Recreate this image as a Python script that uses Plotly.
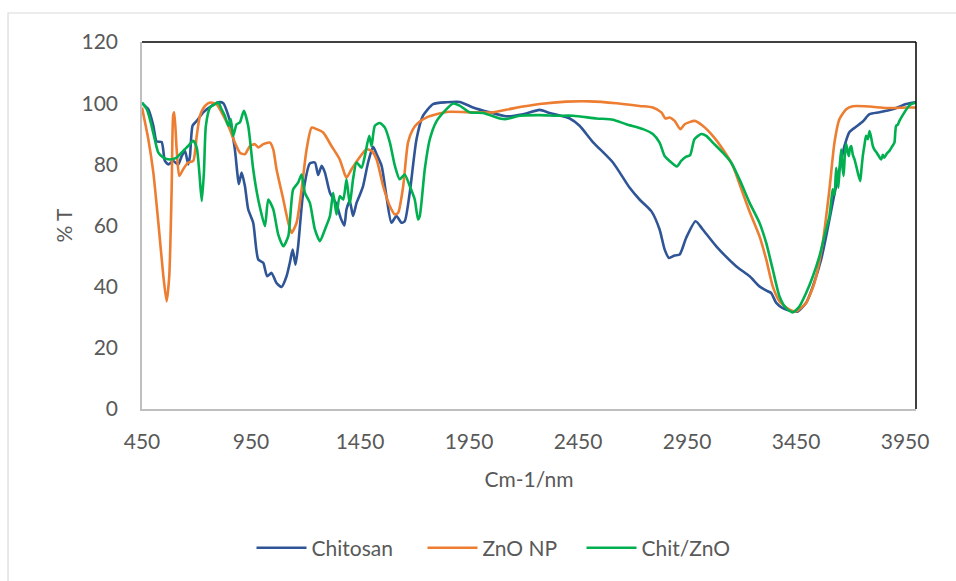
import plotly.graph_objects as go

# ---------------- data ----------------
chitosan_wn = [450, 479, 502, 517, 540, 555, 571, 593, 616, 632, 647, 662, 670, 682, 701, 731, 769, 800, 823,
               846, 861, 876, 887, 894, 907, 922, 937, 960, 983, 1006, 1024, 1044, 1067, 1090, 1113, 1128, 1141,
               1154, 1166, 1189, 1220, 1243, 1258, 1274, 1289, 1312, 1342, 1361, 1378, 1388, 1403, 1418, 1434,
               1449, 1464, 1487, 1510, 1526, 1549, 1571, 1594, 1617, 1640, 1655, 1678, 1709, 1739, 1785, 1846,
               1907, 1968, 2045, 2121, 2198, 2274, 2320, 2412, 2457, 2518, 2610, 2686, 2732, 2786, 2824, 2847,
               2867, 2893, 2916, 2946, 2989, 3022, 3084, 3175, 3237, 3282, 3320, 3336, 3359, 3389, 3435, 3458,
               3496, 3527, 3565, 3588, 3618, 3649, 3672, 3695, 3725, 3756, 3787, 3832, 3893, 3955, 3998]
chitosan_t = [100, 98, 92.6, 87.5, 87.3, 81.1, 80, 81.1, 80, 82.7, 84.4, 80, 82.7, 92.6, 94.2, 97, 99.1, 100.3, 100,
              95.9, 91.5, 84.9, 77.3, 73.5, 77.3, 72.9, 65.3, 60.9, 48.9, 47.8, 43.4, 44.5, 41.2, 39.9, 43.4, 47.8, 52.1,
              47.2, 53.2, 70.5, 80.3, 80.6, 76.5, 79.5, 77.3, 70.7, 67, 62.5, 60, 65.3, 68, 63.1, 67.4,
              70, 72.9, 80.6, 85.7, 83.3, 79.5, 69.6, 60.9, 63.1, 60.9, 61.4, 70.7, 88.2, 95.9, 99.7, 100.3,
              100.4, 98.6, 97, 95.7, 96.4, 97.8, 96.8, 95, 92.6, 87.3, 80.6, 72.4, 68.5, 64.7, 58.7, 52.2,
              49.4, 50.2, 50.5, 56, 61.4, 58.7, 53.2, 46.7, 43.4, 40.1, 38.5, 37.9, 34.7, 33, 31.9, 31.9,
              34.7, 40.1, 48.9, 56.5, 67.4, 78.4, 86, 90.6, 92.3, 94, 96.4, 97, 98, 99.7, 100.3]

zno_wn = [450, 479, 502, 525, 548, 563, 575, 586, 593, 598, 609, 621, 639, 662, 685, 701, 716, 739, 762, 792,
          815, 846, 876, 899, 922, 945, 968, 983, 1006, 1037, 1052, 1067, 1098, 1121, 1136, 1159, 1182, 1205,
          1228, 1251, 1281, 1319, 1357, 1380, 1388, 1411, 1441, 1480, 1503, 1526, 1556, 1587, 1610, 1625,
          1648, 1670, 1693, 1716, 1760, 1800, 1862, 1968, 2060, 2152, 2274, 2396, 2503, 2626, 2732, 2793,
          2832, 2851, 2870, 2893, 2919, 2939, 2985, 3022, 3068, 3114, 3160, 3191, 3237, 3282, 3313, 3343,
          3374, 3420, 3450, 3496, 3534, 3572, 3603, 3626, 3649, 3680, 3710, 3787, 3863, 3955, 4000]
zno_t = [98.6, 88.2, 77.3, 60.9, 43.4, 35.2, 43.4, 71.8, 95.9, 97, 84.9, 76.2, 78.4, 80.6, 81.1, 89.3, 95.9, 99.1, 100.2, 99.7,
         97, 92.6, 87.1, 83.8, 83.3, 86, 86.6, 85.5, 86.6, 87.1, 84.9, 78.4, 68.5, 60.9, 57.6, 60.9, 71.8, 84.9,
         92, 91.5, 90.4, 86, 81.6, 76.7, 75.6, 78.4, 81.6, 84.9, 84.4, 81.6, 72.9, 66.3, 63.6, 64.2,
         72.9, 87.1, 91.5, 93.5, 95.5, 96.4, 97.2, 97, 97, 98.3, 99.7, 100.5, 100.6, 100, 99.1, 98.6,
         97, 95, 95.3, 94.2, 91.5, 93.1, 94.2, 92.6, 89.3, 84.9, 79.5, 73.5, 64.5, 56.5, 48.9, 40.1,
         35.2, 32.5, 31.9, 34.7, 41.2, 54.3, 71.8, 87.1, 94.8, 98, 99, 98.9, 98.4, 98.6, 98.6]

chitzno_wn = [450, 472, 494, 510, 525, 548, 578, 609, 639, 662, 685, 701, 713, 724, 734, 743, 762, 785, 800, 815,
              830, 846, 857, 868, 884, 899, 917, 937, 960, 983, 1014, 1029, 1052, 1075, 1098, 1121, 1143, 1166,
              1182, 1197, 1220, 1243, 1266, 1289, 1312, 1327, 1342, 1357, 1373, 1388, 1403, 1418, 1434, 1457,
              1472, 1492, 1503, 1518, 1541, 1564, 1587, 1610, 1632, 1655, 1678, 1701, 1716, 1724, 1747, 1770,
              1800, 1839, 1877, 1907, 1953, 2014, 2091, 2121, 2182, 2274, 2350, 2427, 2534, 2610, 2671, 2748,
              2793, 2824, 2847, 2870, 2903, 2923, 2946, 2964, 2984, 3015, 3038, 3068, 3114, 3152, 3191, 3237,
              3282, 3313, 3343, 3374, 3404, 3435, 3465, 3496, 3527, 3557, 3580, 3603, 3612, 3618, 3626, 3634,
              3640, 3644, 3651, 3657, 3662, 3668, 3674, 3680, 3686, 3692, 3697, 3703, 3710, 3718, 3726, 3733,
              3744, 3750, 3756, 3764, 3771, 3779, 3787, 3795, 3802, 3811, 3820, 3830, 3840, 3848, 3855, 3866,
              3878, 3890, 3901, 3905, 3909, 3916, 3924, 3935, 3947, 3962, 3977, 4000]
chitzno_t = [100.2, 98, 92.6, 87.7, 83.8, 82.2, 81.6, 82.2, 84.4, 86, 87.7, 85.5, 77.3, 68, 77.3, 92.6, 98.6, 99.7, 100.2, 98,
             95.9, 92.6, 94.8, 89.3, 93.1, 93.7, 97.5, 92.6, 78.4, 68.5, 59.8, 68.5, 65.3, 57, 53.2, 56.5, 71.8, 74,
             76.7, 70.7, 67.4, 58.7, 54.9, 58.7, 63.1, 70.7, 63.6, 69.6, 68.5, 75.1, 66.9, 75.1, 80.6, 78.9,
             82.7, 89.3, 86, 92.6, 93.5, 92, 87.1, 79.5, 75.1, 76.7, 72.9, 68.5, 62, 63.1, 78.4, 88.2,
             94, 97.5, 99.9, 99.2, 97, 96.8, 95, 94.8, 95.9, 96.1, 95.9, 95.9, 95, 94.6, 93.1, 91.5,
             89.9, 87.1, 82.7, 81.1, 79.3, 81.1, 82.5, 83, 88.2, 89.9, 89.3, 87.1, 83.8, 80.6, 75, 67.4,
             60.9, 54.3, 45.6, 36.8, 33, 31.6, 33.5, 37.9, 43.4, 49.9, 56.5, 63.1, 68.5, 71.8, 70, 78.9,
             75.5, 72.4, 80.2, 84.9, 79.5, 76.2, 83.5, 86.6, 84.1, 82.7, 85.3, 86, 83.2, 81.6, 79.4, 77.3,
             74.5, 78.6, 82.7, 86.5, 89.3, 88.2, 90.9, 88.5, 86, 84.6, 83.8, 82.6, 81.6, 83.1, 82.2, 83.5,
             84.4, 85.8, 87.1, 90.5, 92.6, 92.9, 94.2, 95.6, 97, 98.6, 99.7, 100.2]

x_ticks = [450, 950, 1450, 1950, 2450, 2950, 3450, 3950]
y_ticks = [0, 20, 40, 60, 80, 100, 120]
series_names = ["Chitosan", "ZnO NP", "Chit/ZnO"]
series_x = [chitosan_wn, zno_wn, chitzno_wn]
series_y = [chitosan_t, zno_t, chitzno_t]
series_colors = ["#2F5597", "#ED7D31", "#00B050"]
legend_widths = [106, 94, 88]

# ---------------- figure ----------------
FONT = "Lato"
TXT = "#595959"
fig = go.Figure()
for name, xs, ys, col, lw in zip(series_names, series_x, series_y, series_colors, legend_widths):
    fig.add_trace(go.Scatter(x=xs, y=ys, mode="lines", name=name, legendwidth=lw,
                             line=dict(color=col, width=2.6, shape="spline", smoothing=0.6)))

fig.update_layout(
    width=956, height=581, autosize=False,
    margin=dict(l=142, r=40, t=42, b=172),
    paper_bgcolor="white", plot_bgcolor="white",
    font=dict(family=FONT, size=21, color=TXT),
    showlegend=True,
    legend=dict(orientation="h", x=0.4535, xanchor="center", y=-0.379, yanchor="middle",
                font=dict(family=FONT, size=21, color=TXT), itemwidth=50,
                entrywidthmode="pixels", bgcolor="rgba(0,0,0,0)"),
    xaxis=dict(range=[450, 4000], tickvals=x_ticks, ticktext=[str(v) for v in x_ticks],
               showgrid=False, zeroline=False, showline=True, linecolor="#BFBFBF", linewidth=1.5,
               ticks="", ticklabelstandoff=13, tickfont=dict(family=FONT, size=21, color=TXT),
               title=dict(text="Cm-1/nm", standoff=20, font=dict(family=FONT, size=21, color=TXT))),
    yaxis=dict(range=[0, 120], tickvals=y_ticks, showgrid=False, zeroline=False, showline=True,
               linecolor="#BFBFBF", linewidth=1.5, ticks="", ticklabelstandoff=18,
               tickfont=dict(family=FONT, size=21, color=TXT),
               title=dict(text="% T", standoff=3, font=dict(family=FONT, size=21, color=TXT))),
    shapes=[
        dict(type="line", xref="paper", yref="paper", x0=0, x1=1, y0=1, y1=1,
             line=dict(color="black", width=1.5)),
        dict(type="line", xref="paper", yref="paper", x0=1, x1=1, y0=0, y1=1,
             line=dict(color="black", width=1.5)),
        dict(type="rect", xref="paper", yref="paper", x0=-0.1731, x1=1.06, y0=-0.50, y1=1.079,
             line=dict(color="#D9D9D9", width=1.2), layer="below"),
    ],
)

fig.write_html("out.html")
